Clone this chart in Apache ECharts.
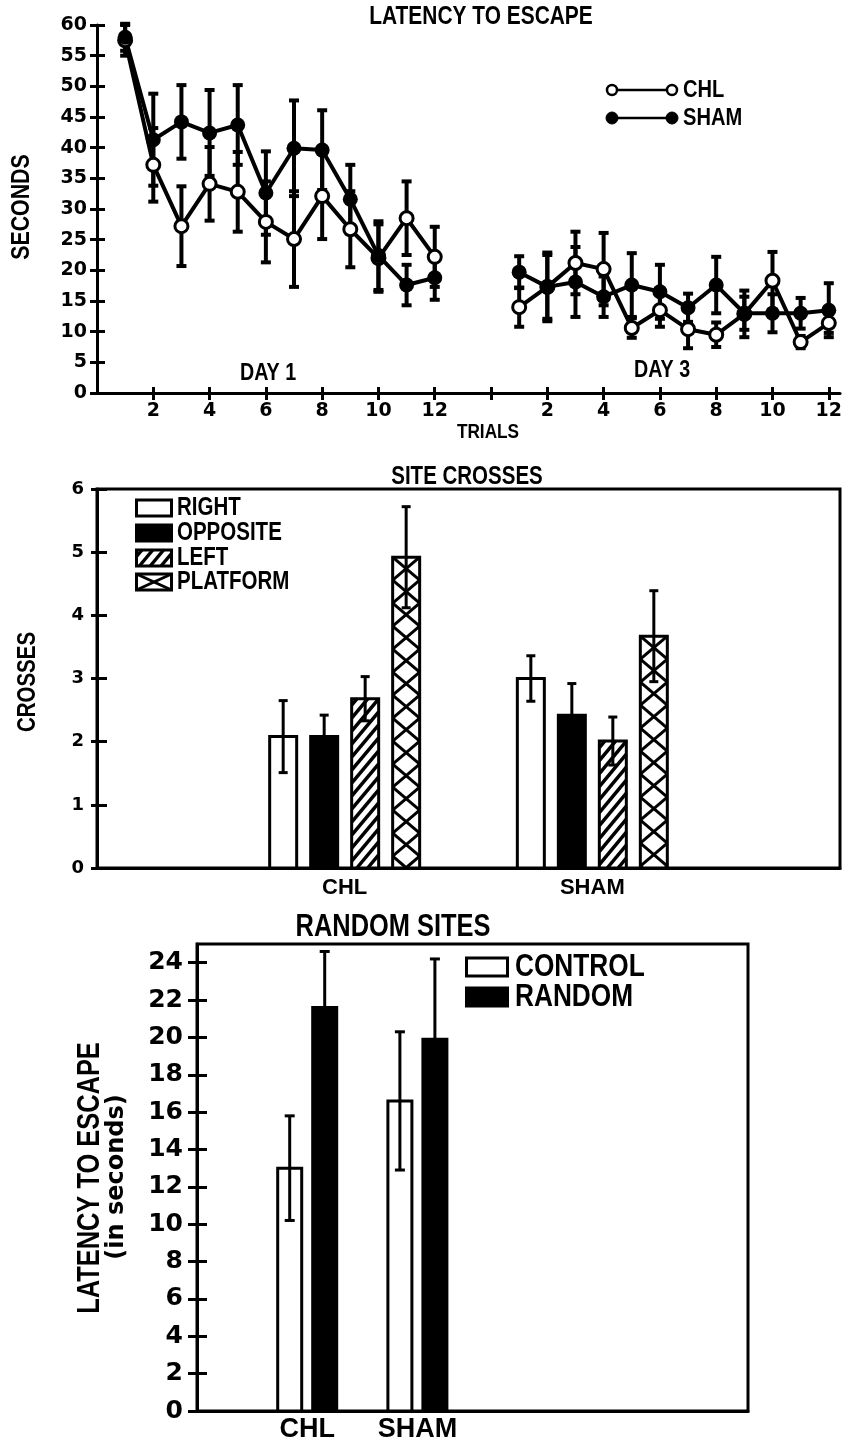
<!DOCTYPE html>
<html>
<head>
<meta charset="utf-8">
<script src="https://cdn.jsdelivr.net/npm/echarts@6/dist/echarts.min.js"></script>
<style>
html,body{margin:0;padding:0;background:#fff;}
#chart{width:845px;height:1443px;}
</style>
</head>
<body>
<div id="chart"></div>
<script>
// ================= DATA =================
// Panel 1: latency to escape (seconds), 12 trials on day 1 and day 3
const trials = [1, 2, 3, 4, 5, 6, 7, 8, 9, 10, 11, 12];
const day3AxisOffset = 14; // day 3 trials follow after a gap on the trial axis
const trialAxisTicks = [2, 4, 6, 8, 10, 12, 14, 16, 18, 20, 22, 24, 26];
const trialTickLabels = ['2', '4', '6', '8', '10', '12', '', '2', '4', '6', '8', '10', '12'];
const latencyTicks = [0, 5, 10, 15, 20, 25, 30, 35, 40, 45, 50, 55, 60];

const chlDay1     = [57.5, 37.2, 27.2, 34.1, 32.8, 27.9, 25.1, 32.1, 26.7, 22.0, 28.5, 22.2];
const chlDay1Err  = [2.5, 6.0, 6.5, 6.0, 6.5, 6.6, 7.8, 7.0, 6.2, 5.5, 6.0, 4.9];
const shamDay1    = [58.0, 41.3, 44.2, 42.4, 43.7, 32.6, 39.9, 39.6, 31.6, 22.4, 17.6, 18.8];
const shamDay1Err = [2.2, 7.5, 6.0, 7.0, 6.5, 6.8, 7.8, 6.5, 5.6, 5.6, 3.3, 3.6];
const chlDay3     = [14.0, 17.3, 21.2, 20.2, 10.6, 13.5, 10.4, 9.5, 12.9, 18.3, 8.3, 11.4];
const chlDay3Err  = [3.2, 5.6, 5.1, 5.9, 1.6, 2.7, 3.1, 2.0, 3.8, 4.7, 1.0, 1.6];
const shamDay3    = [19.7, 17.3, 18.1, 15.7, 17.6, 16.5, 13.9, 17.6, 13.0, 13.0, 13.0, 13.5];
const shamDay3Err = [2.6, 5.2, 5.7, 3.3, 5.2, 4.4, 2.3, 4.6, 2.7, 3.1, 2.5, 4.4];

// Panel 2: site crosses
const siteGroups = ['CHL', 'SHAM'];
const siteAxisCats = ['', 'CHL', 'SHAM', ''];
const siteTypes = ['RIGHT', 'OPPOSITE', 'LEFT', 'PLATFORM'];
const rightCross     = [2.08, 3.00];
const rightCrossErr  = [0.57, 0.36];
const oppCross       = [2.08, 2.42];
const oppCrossErr    = [0.34, 0.50];
const leftCross      = [2.68, 2.01];
const leftCrossErr   = [0.35, 0.38];
const platCross      = [4.92, 3.67];
const platCrossErr   = [0.80, 0.72];
const crossTicks = [0, 1, 2, 3, 4, 5, 6];

// Panel 3: random sites latency
const rsGroups = ['CHL', 'SHAM'];
const rsAxisCats = ['', 'CHL', 'SHAM', '', '', ''];
const rsControl    = [13.0, 16.6];
const rsControlErr = [2.8, 3.7];
const rsRandom     = [21.6, 19.9];
const rsRandomErr  = [3.0, 4.3];
const rsTicks = [0, 2, 4, 6, 8, 10, 12, 14, 16, 18, 20, 22, 24];

// ================= STYLE HELPERS =================
const NARROW = '"Liberation Sans", Arial, Helvetica, sans-serif';
const WIDE = '"DejaVu Sans", sans-serif';
const BLACK = '#000';

function clipSeg(x1, y1, x2, y2, r) {
  let t0 = 0, t1 = 1;
  const dx = x2 - x1, dy = y2 - y1;
  const p = [-dx, dx, -dy, dy];
  const q = [x1 - r.x, r.x + r.w - x1, y1 - r.y, r.y + r.h - y1];
  for (let i = 0; i < 4; i++) {
    if (p[i] === 0) { if (q[i] < 0) return null; }
    else {
      const t = q[i] / p[i];
      if (p[i] < 0) { if (t > t1) return null; if (t > t0) t0 = t; }
      else { if (t < t0) return null; if (t < t1) t1 = t; }
    }
  }
  return { x1: x1 + t0 * dx, y1: y1 + t0 * dy, x2: x1 + t1 * dx, y2: y1 + t1 * dy };
}
function seg(s, lw) { return { type: 'line', shape: s, style: { stroke: BLACK, lineWidth: lw } }; }
function hatchLines(r, slope, gap, lw) {
  const out = [];
  for (let c = r.y + gap * 0.5; c < r.y + r.h + slope * r.w; c += gap) {
    const s = clipSeg(r.x, c, r.x + r.w, c - slope * r.w, r);
    if (s) out.push(seg(s, lw));
  }
  return out;
}
function crossLines(r, cell, lw) {
  const out = [];
  const xl = r.x, xr = r.x + r.w;
  for (let y = r.y; y < r.y + r.h - 0.5; y += cell) {
    const a = clipSeg(xl, y, xr, y + cell, r);
    const b = clipSeg(xr, y, xl, y + cell, r);
    if (a) out.push(seg(a, lw));
    if (b) out.push(seg(b, lw));
  }
  return out;
}
function barShape(kind, r, cell) {
  const rect = { x: r.x, y: r.y, width: r.w, height: r.h };
  if (kind === 'solid') {
    return [{ type: 'rect', shape: rect, style: { fill: BLACK, stroke: BLACK, lineWidth: 3 } }];
  }
  const out = [{ type: 'rect', shape: rect, style: { fill: '#fff', stroke: null } }];
  if (kind === 'hatch') out.push(...hatchLines(r, 1.2, 13, 3.5));
  if (kind === 'cross') out.push(...crossLines(r, cell || 23, 3));
  out.push({ type: 'rect', shape: rect, style: { fill: null, stroke: BLACK, lineWidth: 3 } });
  return out;
}
function errorBar(x, yTop, yBot, capHalf, lw) {
  return [
    seg({ x1: x, y1: yTop, x2: x, y2: yBot }, lw),
    seg({ x1: x - capHalf, y1: yTop, x2: x + capHalf, y2: yTop }, lw),
    seg({ x1: x - capHalf, y1: yBot, x2: x + capHalf, y2: yBot }, lw)
  ];
}
function txt(str, x, y, size, o) {
  o = o || {};
  const wide = o.family === WIDE;
  return {
    type: 'text', x: x, y: y, rotation: o.rot || 0, scaleX: wide ? 1 : 0.82, z: 20,
    style: {
      text: str, fill: BLACK, fontSize: size,
      fontFamily: o.family || NARROW, fontWeight: o.weight || 'bold',
      align: o.align || 'center', verticalAlign: 'middle'
    }
  };
}

// ================= RENDERERS =================
function lineErrRender(params, api) {
  const x = api.value(0), y = api.value(1), e = api.value(2);
  const t = api.coord([x, y + e]), b = api.coord([x, y - e]);
  return { type: 'group', children: errorBar(t[0], t[1], b[1], 5, 4) };
}
const SITE_BAR_W = 30 / 247.7, SITE_SPACING = 41 / 247.7;
const siteKinds = ['open', 'solid', 'hatch', 'cross'];
function siteRender(k) {
  return function (params, api) {
    const ci = api.value(0), v = api.value(1), e = api.value(2);
    const band = api.size([1, 0])[0];
    const base = api.coord([ci, 0]);
    const cx = base[0] + (k - 1.5) * band * SITE_SPACING;
    const w = band * SITE_BAR_W;
    const topY = api.coord([ci, v])[1];
    const r = { x: cx - w / 2 + 1.5, y: topY, w: w - 3, h: base[1] - topY };
    const children = barShape(siteKinds[k], r, 23);
    children.push(...errorBar(cx, api.coord([ci, v + e])[1], api.coord([ci, v - e])[1], 4.5, 3));
    return { type: 'group', children: children };
  };
}
const RS_BAR_W = 27 / 110.2, RS_OFFSET = 17.5 / 110.2;
function rsRender(k) {
  return function (params, api) {
    const ci = api.value(0), v = api.value(1), e = api.value(2);
    const band = api.size([1, 0])[0];
    const base = api.coord([ci, 0]);
    const cx = base[0] + (k === 0 ? -1 : 1) * band * RS_OFFSET;
    const w = band * RS_BAR_W;
    const topY = api.coord([ci, v])[1];
    const r = { x: cx - w / 2 + 1.5, y: topY, w: w - 3, h: base[1] - topY };
    const children = barShape(k === 0 ? 'open' : 'solid', r);
    children.push(...errorBar(cx, api.coord([ci, v + e])[1], api.coord([ci, v - e])[1], 5, 3));
    return { type: 'group', children: children };
  };
}

// ================= AXES =================
const lineStyle3 = { color: BLACK, width: 3 };
function valAxis(grid, pos, min, max, ticks, outLen, labelSize, margin, extra) {
  return Object.assign({
    type: 'value', gridIndex: grid, position: pos, min: min, max: max,
    axisLine: { show: true, onZero: false, lineStyle: lineStyle3 },
    axisTick: { show: true, length: outLen, lineStyle: lineStyle3, customValues: ticks },
    axisLabel: { show: true, color: BLACK, fontFamily: WIDE, fontWeight: 'bold', fontSize: labelSize, margin: margin, customValues: ticks },
    splitLine: { show: false }
  }, extra || {});
}
function innerAxis(grid, pos, min, max, ticks, inLen) {
  return {
    type: 'value', gridIndex: grid, position: pos, min: min, max: max,
    axisLine: { show: false, onZero: false }, axisLabel: { show: false }, splitLine: { show: false },
    axisTick: { show: true, inside: true, length: inLen, lineStyle: lineStyle3, customValues: ticks }
  };
}

const xAxes = [
  valAxis(0, 'bottom', 0, 26.4, trialAxisTicks, 7, 19, 9, {
    axisLabel: {
      show: true, color: BLACK, fontFamily: WIDE, fontWeight: 'bold', fontSize: 19, margin: 9,
      customValues: trialAxisTicks,
      formatter: function (v) { const i = trialAxisTicks.indexOf(v); return i >= 0 ? trialTickLabels[i] : ''; }
    }
  }),
  innerAxis(0, 'bottom', 0, 26.4, trialAxisTicks, 6),
  {
    type: 'category', gridIndex: 1, position: 'bottom', data: siteAxisCats, boundaryGap: false,
    axisLine: { show: true, lineStyle: lineStyle3 }, axisTick: { show: false },
    axisLabel: { interval: 0, color: BLACK, fontFamily: NARROW, fontWeight: 'bold', fontSize: 22, margin: 9 },
    splitLine: { show: false }
  },
  {
    type: 'category', gridIndex: 2, position: 'bottom', data: rsAxisCats, boundaryGap: false,
    axisLine: { show: true, lineStyle: lineStyle3 }, axisTick: { show: false },
    axisLabel: { interval: 0, color: BLACK, fontFamily: NARROW, fontWeight: 'bold', fontSize: 27, margin: 5 },
    splitLine: { show: false }
  }
];
const yAxes = [
  valAxis(0, 'left', 0, 60, latencyTicks, 7, 19, 10),
  innerAxis(0, 'left', 0, 60, latencyTicks, 8),
  valAxis(1, 'left', 0, 6, crossTicks, 6, 18, 13),
  innerAxis(1, 'left', 0, 6, crossTicks, 10),
  valAxis(2, 'left', 0, 25, rsTicks, 9, 25, 14),
  innerAxis(2, 'left', 0, 25, rsTicks, 10)
];

// ================= SERIES =================
function pts(vals) { return trials.map((t, i) => [t, vals[i]]); }
function pts3(vals) { return trials.map((t, i) => [t + day3AxisOffset, vals[i]]); }
function errPts(vals, errs, off) { return trials.map((t, i) => [t + off, vals[i], errs[i]]); }
function errSeries(name, data) {
  return { name: name, type: 'custom', xAxisIndex: 0, yAxisIndex: 0, renderItem: lineErrRender,
           encode: { x: 0, y: 1 }, data: data, z: 2, silent: true };
}
function lineSeries(name, data, filled) {
  return {
    name: name, type: 'line', xAxisIndex: 0, yAxisIndex: 0, data: data, z: 3, silent: true,
    symbol: 'circle', symbolSize: filled ? 15 : 13,
    itemStyle: filled ? { color: BLACK } : { color: '#fff', borderColor: BLACK, borderWidth: 3 },
    lineStyle: { color: BLACK, width: 4 }
  };
}
const siteVals = [[rightCross, rightCrossErr], [oppCross, oppCrossErr], [leftCross, leftCrossErr], [platCross, platCrossErr]];
const siteSeries = siteTypes.map((name, k) => ({
  name: name, type: 'custom', xAxisIndex: 2, yAxisIndex: 2, renderItem: siteRender(k),
  encode: { x: 0, y: 1 }, silent: true,
  data: siteGroups.map((g, i) => [siteAxisCats.indexOf(g), siteVals[k][0][i], siteVals[k][1][i]])
}));
const rsVals = [[rsControl, rsControlErr], [rsRandom, rsRandomErr]];
const rsSeries = ['CONTROL', 'RANDOM'].map((name, k) => ({
  name: name, type: 'custom', xAxisIndex: 3, yAxisIndex: 4, renderItem: rsRender(k),
  encode: { x: 0, y: 1 }, silent: true,
  data: rsGroups.map((g, i) => [rsAxisCats.indexOf(g), rsVals[k][0][i], rsVals[k][1][i]])
}));

const series = [
  errSeries('CHL day 1 SE', errPts(chlDay1, chlDay1Err, 0)),
  errSeries('CHL day 3 SE', errPts(chlDay3, chlDay3Err, day3AxisOffset)),
  errSeries('SHAM day 1 SE', errPts(shamDay1, shamDay1Err, 0)),
  errSeries('SHAM day 3 SE', errPts(shamDay3, shamDay3Err, day3AxisOffset)),
  lineSeries('CHL', pts(chlDay1), false),
  lineSeries('CHL', pts3(chlDay3), false),
  lineSeries('SHAM', pts(shamDay1), true),
  lineSeries('SHAM', pts3(shamDay3), true)
].concat(siteSeries, rsSeries);

// ================= TEXT / LEGENDS =================
const g = [];
// panel 1
g.push(txt('LATENCY TO ESCAPE', 481, 17, 25.5));
g.push(txt('SECONDS', 22, 207, 26, { rot: Math.PI / 2 }));
g.push(txt('DAY 1', 268, 373, 24));
g.push(txt('DAY 3', 662, 370, 24));
g.push(txt('TRIALS', 488, 432, 21));
[['CHL', 90, false], ['SHAM', 118, true]].forEach(function (row) {
  const y = row[1], filled = row[2];
  g.push({ type: 'line', shape: { x1: 612, y1: y, x2: 672, y2: y }, style: { stroke: BLACK, lineWidth: 2.5 }, z: 20 });
  [612, 672].forEach(function (cx) {
    g.push({ type: 'circle', shape: { cx: cx, cy: y, r: filled ? 6 : 5 },
             style: { fill: filled ? BLACK : '#fff', stroke: BLACK, lineWidth: filled ? 1 : 2.5 }, z: 21 });
  });
  g.push(txt(row[0], 683, y, 24.5, { align: 'left' }));
});
// panel 2
g.push(txt('SITE CROSSES', 467, 477, 25));
g.push(txt('CROSSES', 28, 682, 25, { rot: Math.PI / 2 }));
const legRows2 = [508, 533, 558, 582];
siteTypes.forEach(function (name, k) {
  const y = legRows2[k];
  barShape(siteKinds[k], { x: 136.5, y: y - 8, w: 35, h: 16 }, 16).forEach(function (el) { el.z = 20; g.push(el); });
  g.push(txt(name, 177, y, 25, { align: 'left' }));
});
// panel 3
g.push(txt('RANDOM SITES', 393, 927, 31));
g.push(txt('LATENCY TO ESCAPE', 90, 1178, 31, { rot: Math.PI / 2 }));
g.push(txt('(in seconds)', 117, 1177, 24, { rot: Math.PI / 2, family: WIDE }));
[['CONTROL', 967, 'open'], ['RANDOM', 997, 'solid']].forEach(function (row) {
  barShape(row[2], { x: 466.5, y: row[1] - 9, w: 41, h: 18 }).forEach(function (el) { el.z = 20; g.push(el); });
  g.push(txt(row[0], 515, row[1], 32, { align: 'left' }));
});

const option = {
  animation: false,
  backgroundColor: '#fff',
  grid: [
    { left: 97, top: 25, width: 748, height: 368, show: false },
    { left: 97, top: 489, width: 743, height: 379, show: true, borderColor: BLACK, borderWidth: 3, backgroundColor: 'transparent' },
    { left: 197, top: 944, width: 551, height: 467, show: true, borderColor: BLACK, borderWidth: 3, backgroundColor: 'transparent' }
  ],
  xAxis: xAxes,
  yAxis: yAxes,
  series: series,
  graphic: { elements: g }
};

const chart = echarts.init(document.getElementById('chart'), null, { renderer: 'canvas' });
chart.setOption(option);
</script>
</body>
</html>
